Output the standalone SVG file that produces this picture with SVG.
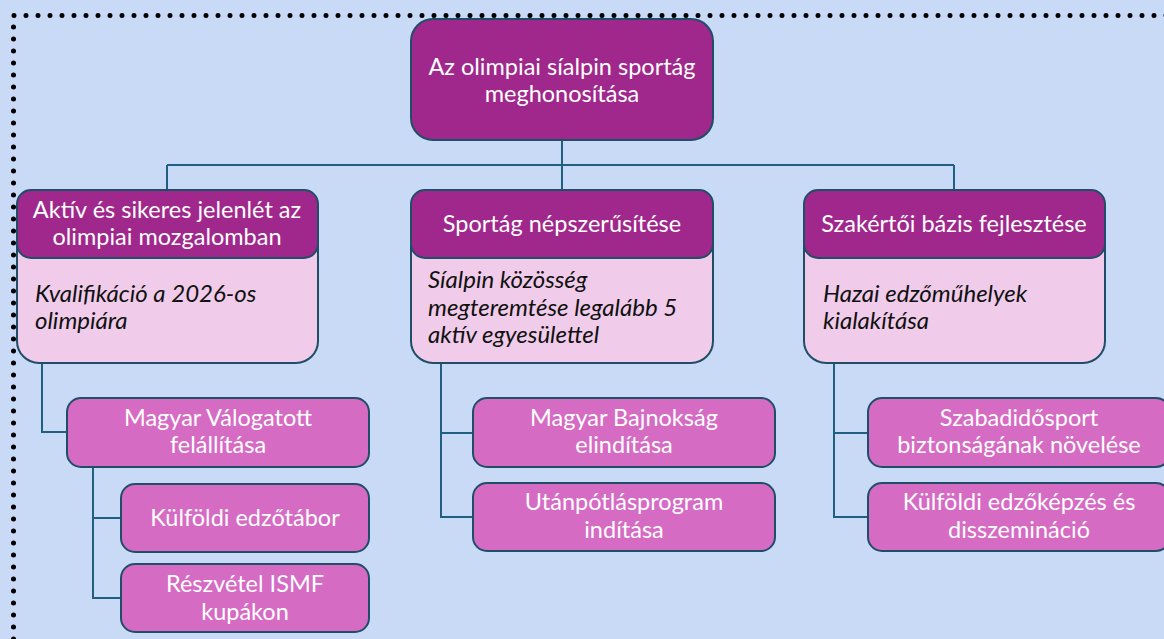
<svg xmlns="http://www.w3.org/2000/svg" width="1164" height="639" viewBox="0 0 1164 639">
<style>
.hdr{fill:#A0288C;stroke:#1F4E66;stroke-width:2}
.body{fill:#F0CCEA;stroke:#1F4E66;stroke-width:2}
.sub{fill:#D66BC4;stroke:#1F4E66;stroke-width:2}
.wt{font-family:Lato,"Open Sans",sans-serif;font-size:23.5px;fill:#FFFFFF;text-anchor:middle}
.it{font-family:Lato,"Open Sans",sans-serif;font-size:24px;font-style:italic;fill:#111111}
.conn{fill:none;stroke:#1F6080;stroke-width:2}
.dots{fill:none;stroke:#000;stroke-width:5;stroke-linecap:round;stroke-dasharray:0 12}
</style>
<rect width="1164" height="639" fill="#C9DAF6"/>
<path class="dots" d="M13.5 639 L13.5 15.5 L1170 15.5"/>
<g id="connectors">
<path class="conn" d="M562 140 V165 M167 165 H954 M167 165 V190 M562 165 V190 M954 165 V190"/>
<path class="conn" d="M42 363 V432 H67"/>
<path class="conn" d="M93 463 V598 H121 M93 518 H121"/>
<path class="conn" d="M441 363 V517 H473 M441 433 H473"/>
<path class="conn" d="M834 363 V517 H868 M834 433 H868"/>
</g>
<g id="root">
<rect class="hdr" x="411" y="19" width="302" height="121" rx="22"/>
<text class="wt" x="562" y="75">Az olimpiai síalpin sportág</text>
<text class="wt" x="562" y="102">meghonosítása</text>
</g>
<g id="goal1">
<rect class="body" x="17" y="225" width="301" height="138" rx="22"/>
<rect class="hdr" x="17" y="190" width="301" height="68" rx="14"/>
<text class="wt" x="167" y="218">Aktív és sikeres jelenlét az</text>
<text class="wt" x="167" y="245">olimpiai mozgalomban</text>
<text class="it" x="35" y="302">Kvalifikáció a 2026-os</text>
<text class="it" x="35" y="329">olimpiára</text>
</g>
<g id="goal2">
<rect class="body" x="411" y="225" width="302" height="138" rx="22"/>
<rect class="hdr" x="411" y="190" width="302" height="68" rx="14"/>
<text class="wt" x="562" y="232">Sportág népszerűsítése</text>
<text class="it" x="428" y="288">Síalpin közösség</text>
<text class="it" x="428" y="316">megteremtése legalább 5</text>
<text class="it" x="428" y="343">aktív egyesülettel</text>
</g>
<g id="goal3">
<rect class="body" x="804" y="225" width="301" height="138" rx="22"/>
<rect class="hdr" x="804" y="190" width="301" height="68" rx="14"/>
<text class="wt" x="954" y="232">Szakértői bázis fejlesztése</text>
<text class="it" x="823" y="302">Hazai edzőműhelyek</text>
<text class="it" x="823" y="329">kialakítása</text>
</g>
<g id="n1">
<rect class="sub" x="67" y="398" width="302" height="69" rx="14"/>
<text class="wt" x="218" y="426">Magyar Válogatott</text>
<text class="wt" x="218" y="453">felállítása</text>
</g>
<g id="n2">
<rect class="sub" x="121" y="484" width="248" height="68" rx="14"/>
<text class="wt" x="245" y="526">Külföldi edzőtábor</text>
</g>
<g id="n3">
<rect class="sub" x="121" y="564" width="248" height="68" rx="14"/>
<text class="wt" x="245" y="592">Részvétel ISMF</text>
<text class="wt" x="245" y="620">kupákon</text>
</g>
<g id="n4">
<rect class="sub" x="473" y="398" width="302" height="69" rx="14"/>
<text class="wt" x="624" y="426">Magyar Bajnokság</text>
<text class="wt" x="624" y="453">elindítása</text>
</g>
<g id="n5">
<rect class="sub" x="473" y="483" width="302" height="68" rx="14"/>
<text class="wt" x="624" y="510">Utánpótlásprogram</text>
<text class="wt" x="624" y="538">indítása</text>
</g>
<g id="n6">
<rect class="sub" x="868" y="398" width="302" height="69" rx="14"/>
<text class="wt" x="1019" y="426">Szabadidősport</text>
<text class="wt" x="1019" y="453">biztonságának növelése</text>
</g>
<g id="n7">
<rect class="sub" x="868" y="483" width="302" height="68" rx="14"/>
<text class="wt" x="1019" y="510">Külföldi edzőképzés és</text>
<text class="wt" x="1019" y="538">disszemináció</text>
</g>
</svg>
